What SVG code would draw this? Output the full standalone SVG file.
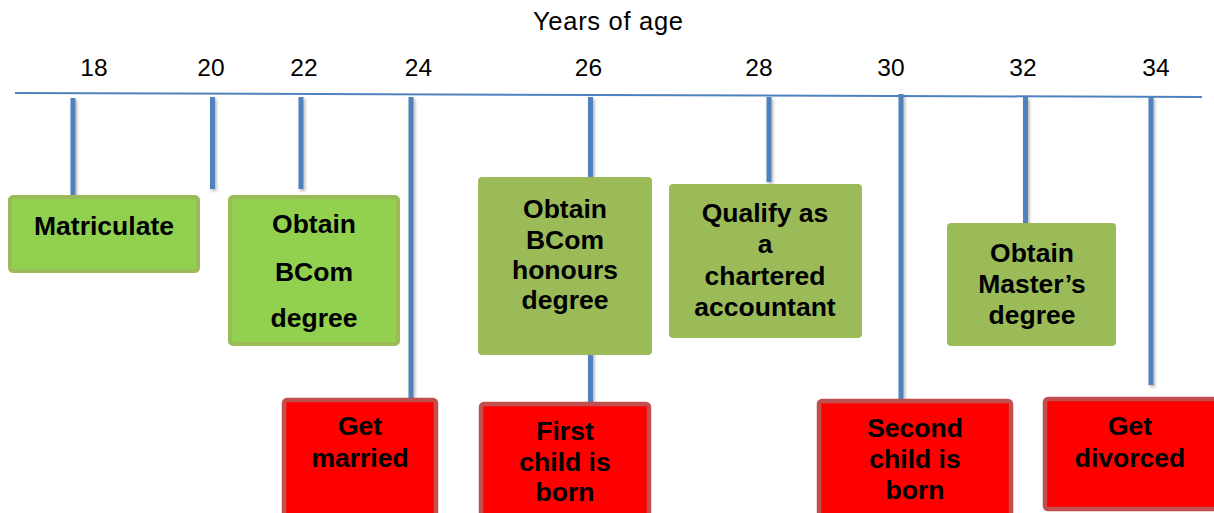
<svg xmlns="http://www.w3.org/2000/svg" width="1214" height="513" viewBox="0 0 1214 513">
  <defs>
    <filter id="shadow" filterUnits="userSpaceOnUse" x="0" y="0" width="1214" height="513">
      <feDropShadow dx="1.5" dy="2" stdDeviation="1.5" flood-color="#000" flood-opacity="0.3"/>
    </filter>
  </defs>
  <style>
    .axis { stroke: #4F81BD; stroke-width: 2; fill: none; }
    .tick { stroke: #4F81BD; stroke-width: 5; fill: none; filter: url(#shadow); }
    .label { font-family: "Liberation Sans", Arial, sans-serif; font-size: 24.5px; fill: #000; text-anchor: middle; }
    .title { font-family: "Liberation Sans", Arial, sans-serif; font-size: 25.5px; fill: #000; text-anchor: middle; }
    .nodetext { font-family: "Liberation Sans", Arial, sans-serif; font-size: 26.5px; font-weight: bold; fill: #000; text-anchor: middle; }
    .bright { fill: #92D050; stroke: #9BBB59; stroke-width: 4; }
    .olive { fill: #9BBB59; stroke: #9BBB59; stroke-width: 1; }
    .red { fill: #FF0000; stroke: #C0504D; stroke-width: 4.5; }
  </style>

  <rect width="1214" height="513" fill="#fff"/>

  <!-- heading and age scale -->
  <text class="title" x="608" y="30" textLength="150">Years of age</text>
  <g id="scale">
    <text class="label" x="94" y="76">18</text>
    <text class="label" x="211" y="76">20</text>
    <text class="label" x="304" y="76">22</text>
    <text class="label" x="418.5" y="76">24</text>
    <text class="label" x="588.5" y="76">26</text>
    <text class="label" x="759" y="76">28</text>
    <text class="label" x="891" y="76">30</text>
    <text class="label" x="1023" y="76">32</text>
    <text class="label" x="1156" y="76">34</text>
  </g>

  <!-- timeline and drop lines -->
  <g id="connectors">
    <line class="axis" x1="15" y1="93" x2="1202" y2="97"/>
    <line class="tick" x1="73" y1="98" x2="73" y2="196"/>
    <line class="tick" x1="212.5" y1="97" x2="212.5" y2="189"/>
    <line class="tick" x1="301" y1="97" x2="301" y2="189"/>
    <line class="tick" x1="411" y1="97" x2="411" y2="399"/>
    <line class="tick" x1="590.5" y1="97" x2="590.5" y2="404"/>
    <line class="tick" x1="769" y1="97" x2="769" y2="182"/>
    <line class="tick" x1="901" y1="94" x2="901" y2="399"/>
    <line class="tick" x1="1025.5" y1="97" x2="1025.5" y2="223"/>
    <line class="tick" x1="1151" y1="97" x2="1151" y2="385"/>
  </g>

  <g id="matriculate">
    <rect class="bright" x="10" y="197" width="188" height="74" rx="3"/>
    <text class="nodetext" x="104" y="235">Matriculate</text>
  </g>

  <g id="bcom">
    <rect class="bright" x="230" y="197" width="168" height="147" rx="3"/>
    <text class="nodetext" x="314" y="233">Obtain</text>
    <text class="nodetext" x="314" y="280.5">BCom</text>
    <text class="nodetext" x="314" y="327">degree</text>
  </g>

  <g id="honours">
    <rect class="olive" x="478.5" y="177.5" width="173" height="177" rx="3"/>
    <text class="nodetext" x="565" y="218.3">Obtain</text>
    <text class="nodetext" x="565" y="248.6">BCom</text>
    <text class="nodetext" x="565" y="278.9">honours</text>
    <text class="nodetext" x="565" y="309.2">degree</text>
  </g>

  <g id="chartered">
    <rect class="olive" x="669.5" y="184.5" width="192" height="153" rx="3"/>
    <text class="nodetext" x="765" y="222">Qualify as</text>
    <text class="nodetext" x="765" y="253.3">a</text>
    <text class="nodetext" x="765" y="284.6">chartered</text>
    <text class="nodetext" x="765" y="316">accountant</text>
  </g>

  <g id="masters">
    <rect class="olive" x="947.5" y="223.5" width="168" height="122" rx="3"/>
    <text class="nodetext" x="1032" y="262">Obtain</text>
    <text class="nodetext" x="1032" y="293">Master’s</text>
    <text class="nodetext" x="1032" y="324">degree</text>
  </g>

  <g id="married">
    <rect class="red" x="284" y="400" width="152" height="130" rx="3"/>
    <text class="nodetext" x="360" y="435">Get</text>
    <text class="nodetext" x="360" y="467">married</text>
  </g>

  <g id="first-child">
    <rect class="red" x="481" y="404" width="168" height="130" rx="3"/>
    <text class="nodetext" x="565" y="440">First</text>
    <text class="nodetext" x="565" y="470.5">child is</text>
    <text class="nodetext" x="565" y="501">born</text>
  </g>

  <g id="second-child">
    <rect class="red" x="819" y="401" width="192" height="130" rx="3"/>
    <text class="nodetext" x="915" y="437">Second</text>
    <text class="nodetext" x="915" y="468">child is</text>
    <text class="nodetext" x="915" y="499">born</text>
  </g>

  <g id="divorced">
    <rect class="red" x="1045" y="399" width="172" height="110" rx="3"/>
    <text class="nodetext" x="1130" y="435">Get</text>
    <text class="nodetext" x="1130" y="467">divorced</text>
  </g>
</svg>
